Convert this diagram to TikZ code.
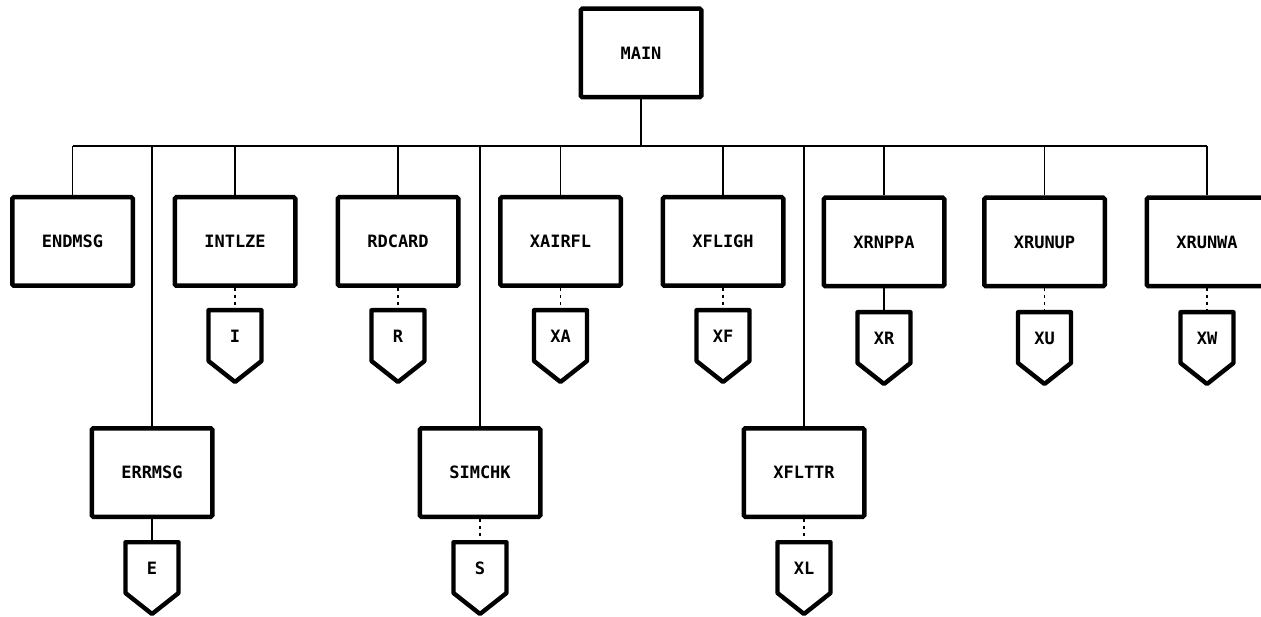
\documentclass[tikz,border=0pt]{standalone}
\usepackage{fontspec}
\setmonofont{DejaVu Sans Mono}
\newcommand\boxfont{\ttfamily\bfseries\fontsize{17}{19}\selectfont}
\newcommand\pent[4]{%
  \draw[pentline] ({#2-26.5},{#3+2.2}) -- ({#2+26.5},{#3+2.2}) -- ({#2+26.5},{#3+53}) -- (#2,{#3+74}) -- ({#2-26.5},{#3+53}) -- cycle;
  \node[plbl] (#1) at (#2,{#3+28}) {#4};
  \coordinate (#1top) at (#2,#3);
}
\begin{document}
\begin{tikzpicture}[x=1pt,y=-1pt,
  box/.style={draw, line width=4.5pt, minimum width=120.5pt, minimum height=88.5pt, rounded corners=1.5pt, inner sep=0pt, font=\boxfont},
  wire/.style={line width=1.8pt},
  faint/.style={line width=1.3pt, dash pattern=on 3pt off 4pt},
  pentline/.style={line width=4.4pt, line join=round},
  plbl/.style={inner sep=0pt, font=\boxfont}]
\useasboundingbox (0,0) rectangle (1261,617);
\clip (0,0) rectangle (1261,617);
% boxes
\node[box] (MAIN) at (641,53) {MAIN};
\node[box] (ENDMSG) at (72.5,241.5) {ENDMSG};
\node[box] (INTLZE) at (235,241.5) {INTLZE};
\node[box] (RDCARD) at (398,241.5) {RDCARD};
\node[box] (XAIRFL) at (560.5,241.5) {XAIRFL};
\node[box] (XFLIGH) at (723,241.5) {XFLIGH};
\node[box] (XRNPPA) at (884,242) {XRNPPA};
\node[box] (XRUNUP) at (1044.5,242) {XRUNUP};
\node[box] (XRUNWA) at (1207,242) {XRUNWA};
\node[box] (ERRMSG) at (152,472.5) {ERRMSG};
\node[box] (SIMCHK) at (480,472.5) {SIMCHK};
\node[box] (XFLTTR) at (804,472.5) {XFLTTR};
% bus
\coordinate (bus) at (0,146);
\draw[wire] (MAIN.south) -- (MAIN.south |- bus);
\draw[wire] (ENDMSG.north |- bus) -- (XRUNWA.north |- bus);
\foreach \n in {ENDMSG,INTLZE,RDCARD,XAIRFL,XFLIGH,XRNPPA,XRUNUP,XRUNWA,ERRMSG,SIMCHK,XFLTTR}
  \draw[wire] (\n.north |- bus) -- (\n.north);
% pentagons
\pent{pI}{235}{308}{I}
\pent{pR}{398}{308}{R}
\pent{pXA}{560.5}{308}{XA}
\pent{pXF}{723}{308}{XF}
\pent{pXR}{884}{310}{XR}
\pent{pXU}{1044.5}{310}{XU}
\pent{pXW}{1207}{310}{XW}
\pent{pE}{152}{540}{E}
\pent{pS}{480}{540}{S}
\pent{pXL}{804}{540}{XL}
% box to pentagon links
\draw[faint] (INTLZE.south) -- (pItop);
\draw[faint] (RDCARD.south) -- (pRtop);
\draw[faint] (XAIRFL.south) -- (pXAtop);
\draw[faint] (XFLIGH.south) -- (pXFtop);
\draw[wire] (XRNPPA.south) -- (pXRtop);
\draw[faint] (XRUNUP.south) -- (pXUtop);
\draw[faint] (XRUNWA.south) -- (pXWtop);
\draw[wire] (ERRMSG.south) -- (pEtop);
\draw[faint] (SIMCHK.south) -- (pStop);
\draw[faint] (XFLTTR.south) -- (pXLtop);
\end{tikzpicture}
\end{document}
